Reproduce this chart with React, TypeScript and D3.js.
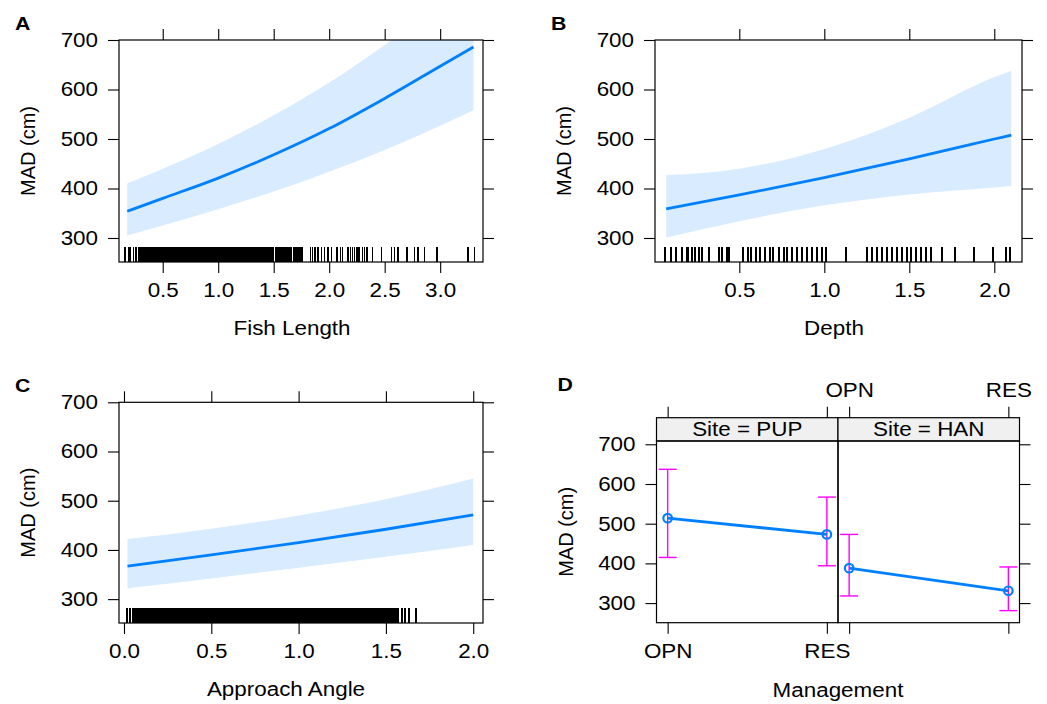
import { useEffect, useRef } from 'react'
import * as d3 from 'd3'

const W = 1047
const H = 704
const FONT = '"Liberation Sans", Arial, Helvetica, sans-serif'
const BLUE = '#0080ff'
const BAND = '#d9ecff'
const MAGENTA = '#ff00ff'
const FS = 20
const STRETCH = 1.12 // the source picture's text runs a little wide

const yTicks = [300, 400, 500, 600, 700]

// A: Fish Length
const fishX = [0.18, 0.5, 1.0, 1.5, 2.0, 2.5, 3.0, 3.3]
const fishFit = [354, 380, 421, 468, 521, 582, 647, 686]
const fishUpper = [410, 440, 490, 548, 614, 690, 772, 826]
const fishLower = [305, 325, 358, 394, 434, 478, 527, 558]
const fishTicks = [0.5, 1.0, 1.5, 2.0, 2.5, 3.0]
const fishRug = [
  0.16, 0.19, 0.205, 0.235, 0.26,
  0.28, 0.29, 0.30, 0.31, 0.32, 0.33, 0.34, 0.35, 0.36, 0.37, 0.38, 0.39,
  0.40, 0.41, 0.42, 0.43, 0.44, 0.45, 0.46, 0.47, 0.48, 0.49,
  0.50, 0.51, 0.52, 0.53, 0.54, 0.55, 0.56, 0.57, 0.58, 0.59,
  0.60, 0.61, 0.62, 0.63, 0.64, 0.65, 0.66, 0.67, 0.68, 0.69,
  0.70, 0.71, 0.72, 0.73, 0.74, 0.75, 0.76, 0.77, 0.78, 0.79,
  0.80, 0.81, 0.82, 0.83, 0.84, 0.85, 0.86, 0.87, 0.88, 0.89,
  0.90, 0.91, 0.92, 0.93, 0.94, 0.95, 0.96, 0.97, 0.98, 0.99,
  1.00, 1.01, 1.02, 1.03, 1.04, 1.05, 1.06, 1.07, 1.08, 1.09,
  1.10, 1.11, 1.12, 1.13, 1.14, 1.15, 1.16, 1.17, 1.18, 1.19,
  1.20, 1.21, 1.22, 1.23, 1.24, 1.25, 1.26, 1.27, 1.28, 1.29,
  1.30, 1.31, 1.32, 1.33, 1.34, 1.35, 1.36, 1.37, 1.38, 1.39,
  1.40, 1.41, 1.42, 1.43, 1.44, 1.45, 1.46, 1.47, 1.48, 1.49,
  1.50, 1.52, 1.53, 1.54, 1.55, 1.56, 1.57, 1.58, 1.59,
  1.60, 1.61, 1.62, 1.63, 1.64, 1.65, 1.66, 1.68, 1.69,
  1.70, 1.71, 1.72, 1.73, 1.74, 1.75, 1.76,
  1.83, 1.85, 1.87, 1.90, 1.93, 1.96, 1.99, 2.02, 2.07, 2.10, 2.12,
  2.17, 2.19, 2.21, 2.23, 2.25, 2.27, 2.30, 2.32, 2.34, 2.39, 2.47,
  2.56, 2.59, 2.62, 2.70, 2.77, 2.80, 2.86, 2.97, 3.25, 3.31,
]

// B: Depth
const depthX = [0.07, 0.5, 1.0, 1.5, 2.0, 2.1]
const depthFit = [359, 387, 422, 460, 500, 508]
const depthUpper = [427, 440, 480, 543, 625, 638]
const depthLower = [301, 334, 366, 388, 402, 405]
const depthTicks = [0.5, 1.0, 1.5, 2.0]
const depthRug = [
  0.06, 0.10, 0.13, 0.165, 0.19, 0.20, 0.22, 0.24, 0.265, 0.28, 0.32,
  0.38, 0.40, 0.43, 0.44, 0.52, 0.55, 0.57, 0.60, 0.62, 0.65, 0.68,
  0.70, 0.735, 0.76, 0.78, 0.81, 0.84, 0.87, 0.90, 0.93, 0.955, 0.985,
  1.01, 1.13, 1.25, 1.28, 1.31, 1.34, 1.37, 1.40, 1.43, 1.46, 1.485,
  1.51, 1.54, 1.57, 1.60, 1.63, 1.69, 1.77, 1.88, 1.99, 2.07, 2.09,
]

// C: Approach Angle
const angleX = [0.02, 0.5, 1.0, 1.5, 2.0]
const angleFit = [367, 390, 415, 442, 471]
const angleUpper = [422, 443, 470, 503, 545]
const angleLower = [322, 342, 364, 386, 410]
const angleTicks = [0.0, 0.5, 1.0, 1.5, 2.0]
const angleRug = [
  0.015, 0.035,
  0.05, 0.06, 0.07, 0.08, 0.09, 0.10, 0.11, 0.12, 0.13, 0.14, 0.15, 0.16, 0.17, 0.18, 0.19,
  0.20, 0.21, 0.22, 0.23, 0.24, 0.25, 0.26, 0.27, 0.28, 0.29,
  0.30, 0.31, 0.32, 0.33, 0.34, 0.35, 0.36, 0.37, 0.38, 0.39,
  0.40, 0.41, 0.42, 0.43, 0.44, 0.45, 0.46, 0.47, 0.48, 0.49,
  0.50, 0.51, 0.52, 0.53, 0.54, 0.55, 0.56, 0.57, 0.58, 0.59,
  0.60, 0.61, 0.62, 0.63, 0.64, 0.65, 0.66, 0.67, 0.68, 0.69,
  0.70, 0.71, 0.72, 0.73, 0.74, 0.75, 0.76, 0.77, 0.78, 0.79,
  0.80, 0.81, 0.82, 0.83, 0.84, 0.85, 0.86, 0.87, 0.88, 0.89,
  0.90, 0.91, 0.92, 0.93, 0.94, 0.95, 0.96, 0.97, 0.98, 0.99,
  1.00, 1.01, 1.02, 1.03, 1.04, 1.05, 1.06, 1.07, 1.08, 1.09,
  1.10, 1.11, 1.12, 1.13, 1.14, 1.15, 1.16, 1.17, 1.18, 1.19,
  1.20, 1.21, 1.22, 1.23, 1.24, 1.25, 1.26, 1.27, 1.28, 1.29,
  1.30, 1.31, 1.32, 1.33, 1.34, 1.35, 1.36, 1.37, 1.38, 1.39,
  1.40, 1.41, 1.42, 1.43, 1.44, 1.45, 1.46, 1.47, 1.48, 1.49,
  1.50, 1.51, 1.52, 1.53, 1.54, 1.55, 1.56,
  1.57, 1.59, 1.61, 1.63, 1.67,
]

// D: Management x Site
const mgmtLevels = ['OPN', 'RES']
const siteLevels = ['PUP', 'HAN']
const pupFit = [514, 473]
const pupUpper = [637, 567]
const pupLower = [415, 394]
const hanFit = [388, 331]
const hanUpper = [473, 391]
const hanLower = [318, 281]

const TICK = 11

function styleText(sel) {
  sel.attr('font-family', FONT).attr('font-size', FS).attr('fill', '#000')
}

const axStyle = (sel) => {
  sel.select('.domain').remove()
  sel.selectAll('.tick line').attr('stroke', '#000').attr('stroke-width', 1.1)
  sel.selectAll('text').call(styleText)
}

function drawPanel(root, p) {
  const { left, right, top, bottom } = p
  const x = d3.scaleLinear().domain(p.xDomain).range([left, right])
  const y = d3.scaleLinear().domain([251.5, 700]).range([bottom, top])
  const g = root.append('g')

  g.append('clipPath').attr('id', 'clip-' + p.id)
    .append('rect').attr('x', left).attr('y', top)
    .attr('width', right - left).attr('height', bottom - top)
  const plot = g.append('g').attr('clip-path', `url(#clip-${p.id})`)

  const pts = p.xs.map((v, i) => ({ x: v, fit: p.fit[i], lo: p.lower[i], hi: p.upper[i] }))
  plot.append('path').datum(pts)
    .attr('d', d3.area().x(d => x(d.x)).y0(d => y(d.lo)).y1(d => y(d.hi)).curve(d3.curveMonotoneX))
    .attr('fill', BAND)
  plot.append('path').datum(pts)
    .attr('d', d3.line().x(d => x(d.x)).y(d => y(d.fit)).curve(d3.curveMonotoneX))
    .attr('fill', 'none').attr('stroke', BLUE).attr('stroke-width', 2.8)

  // rug
  plot.append('g').attr('shape-rendering', 'crispEdges')
    .selectAll('line').data(p.rug).join('line')
    .attr('x1', d => x(d)).attr('x2', d => x(d))
    .attr('y1', bottom).attr('y2', bottom - 15)
    .attr('stroke', '#000').attr('stroke-width', p.rugW)

  g.append('g').attr('transform', `translate(${left},0)`)
    .call(d3.axisLeft(y).tickValues(yTicks).tickSize(TICK).tickPadding(10)).call(axStyle)
  g.append('g').attr('transform', `translate(${right},0)`)
    .call(d3.axisRight(y).tickValues(yTicks).tickSize(TICK).tickFormat(() => '')).call(axStyle)
  g.append('g').attr('transform', `translate(0,${top})`)
    .call(d3.axisTop(x).tickValues(p.xTicks).tickSize(TICK).tickFormat(() => '')).call(axStyle)
  g.append('g').attr('transform', `translate(0,${bottom})`)
    .call(d3.axisBottom(x).tickValues(p.xTicks).tickSize(TICK).tickPadding(10).tickFormat(d3.format('.1f'))).call(axStyle)

  g.append('rect').attr('x', left).attr('y', top)
    .attr('width', right - left).attr('height', bottom - top)
    .attr('fill', 'none').attr('stroke', '#000').attr('stroke-width', 1.2)

  g.append('text').attr('x', p.xlabX).attr('y', bottom + 73)
    .attr('text-anchor', 'middle').call(styleText).text(p.xlab)
  g.append('text').attr('class', 'rot')
    .attr('transform', `translate(${left - 84},${(top + bottom) / 2}) rotate(-90)`)
    .attr('text-anchor', 'middle').call(styleText).text('MAD (cm)')
  g.append('text').attr('x', left - 104).attr('y', top - 10)
    .call(styleText).attr('font-size', 19).attr('font-weight', 'bold').text(p.letter)
}

function drawInteraction(root) {
  const left = 656.5, mid = 838, right = 1019.5
  const stripTop = 417.7, top = 441, bottom = 622.7
  const y = d3.scaleLinear().domain([250.6, 708.3]).range([bottom, top])
  const g = root.append('g')

  g.append('g').attr('transform', `translate(${left},0)`)
    .call(d3.axisLeft(y).tickValues(yTicks).tickSize(TICK).tickPadding(10)).call(axStyle)
  g.append('g').attr('transform', `translate(${right},0)`)
    .call(d3.axisRight(y).tickValues(yTicks).tickSize(TICK).tickFormat(() => '')).call(axStyle)

  const series = [
    { fit: pupFit, up: pupUpper, lo: pupLower },
    { fit: hanFit, up: hanUpper, lo: hanLower },
  ]
  siteLevels.forEach((site, si) => {
    const x0 = si === 0 ? left : mid
    const x1 = si === 0 ? mid : right
    const x = d3.scalePoint().domain(mgmtLevels).range([x0, x1]).padding(0.07)
    const s = series[si]

    g.append('rect').attr('x', x0).attr('y', stripTop).attr('width', x1 - x0).attr('height', top - stripTop)
      .attr('fill', '#f0f0f0').attr('stroke', '#000').attr('stroke-width', 1.2)
    g.append('text').attr('x', (x0 + x1) / 2).attr('y', top - 5.5).attr('text-anchor', 'middle')
      .call(styleText).text(`Site = ${site}`)

    // labels alternate: bottom for the first panel, top for the second
    const topAx = d3.axisTop(x).tickSize(TICK).tickPadding(10)
    if (si === 0) topAx.tickFormat(() => '')
    g.append('g').attr('transform', `translate(0,${stripTop})`).call(topAx).call(axStyle)
    const botAx = d3.axisBottom(x).tickSize(TICK).tickPadding(10)
    if (si === 1) botAx.tickFormat(() => '')
    g.append('g').attr('transform', `translate(0,${bottom})`).call(botAx).call(axStyle)

    mgmtLevels.forEach((m, i) => {
      const cx = x(m)
      g.append('line').attr('x1', cx).attr('x2', cx).attr('y1', y(s.lo[i])).attr('y2', y(s.up[i]))
        .attr('stroke', MAGENTA).attr('stroke-width', 1.4)
      ;[s.lo[i], s.up[i]].forEach(v => {
        g.append('line').attr('x1', cx - 9).attr('x2', cx + 9).attr('y1', y(v)).attr('y2', y(v))
          .attr('stroke', MAGENTA).attr('stroke-width', 1.4)
      })
    })
    g.append('path').datum(mgmtLevels)
      .attr('d', d3.line().x(d => x(d)).y((d, i) => y(s.fit[i])))
      .attr('fill', 'none').attr('stroke', BLUE).attr('stroke-width', 2.8)
    g.selectAll(null).data(mgmtLevels).join('circle')
      .attr('cx', d => x(d)).attr('cy', (d, i) => y(s.fit[i])).attr('r', 4.3)
      .attr('fill', 'none').attr('stroke', BLUE).attr('stroke-width', 2.2)

    g.append('rect').attr('x', x0).attr('y', top).attr('width', x1 - x0).attr('height', bottom - top)
      .attr('fill', 'none').attr('stroke', '#000').attr('stroke-width', 1.2)
  })

  g.append('text').attr('x', mid).attr('y', bottom + 74).attr('text-anchor', 'middle')
    .call(styleText).text('Management')
  g.append('text').attr('class', 'rot')
    .attr('transform', `translate(${left - 84},${(top + bottom) / 2}) rotate(-90)`)
    .attr('text-anchor', 'middle').call(styleText).text('MAD (cm)')
  g.append('text').attr('x', left - 99).attr('y', 391)
    .call(styleText).attr('font-size', 19).attr('font-weight', 'bold').text('D')
}

export default function App() {
  const svgRef = useRef(null)

  useEffect(() => {
    const svg = d3.select(svgRef.current)
    svg.selectAll('*').remove()
    svg.append('rect').attr('width', W).attr('height', H).attr('fill', '#fff')

    drawPanel(svg, {
      id: 'a', left: 119, right: 483, top: 40, bottom: 262,
      xDomain: [0.106, 3.386], xTicks: fishTicks,
      xs: fishX, fit: fishFit, upper: fishUpper, lower: fishLower,
      rug: fishRug, rugW: 1.5, letter: 'A', xlab: 'Fish Length', xlabX: 292,
    })
    drawPanel(svg, {
      id: 'b', left: 655, right: 1022, top: 40, bottom: 262,
      xDomain: [0.004, 2.163], xTicks: depthTicks,
      xs: depthX, fit: depthFit, upper: depthUpper, lower: depthLower,
      rug: depthRug, rugW: 2, letter: 'B', xlab: 'Depth', xlabX: 834,
    })
    drawPanel(svg, {
      id: 'c', left: 119, right: 483, top: 402.3, bottom: 623,
      xDomain: [-0.0286, 2.056], xTicks: angleTicks,
      xs: angleX, fit: angleFit, upper: angleUpper, lower: angleLower,
      rug: angleRug, rugW: 2, letter: 'C', xlab: 'Approach Angle', xlabX: 286,
    })
    drawInteraction(svg)

    // widen horizontal text to match the source proportions
    svg.selectAll('text').each(function () {
      const el = this as SVGTextElement
      if (el.classList.contains('rot') || !el.textContent) return
      const w = el.getComputedTextLength()
      if (w > 0) {
        el.setAttribute('textLength', String(w * STRETCH))
        el.setAttribute('lengthAdjust', 'spacingAndGlyphs')
      }
    })
  }, [])

  return (
    <svg ref={svgRef} width={W} height={H}
      style={{ position: 'absolute', left: 0, top: 0, display: 'block' }} />
  )
}
